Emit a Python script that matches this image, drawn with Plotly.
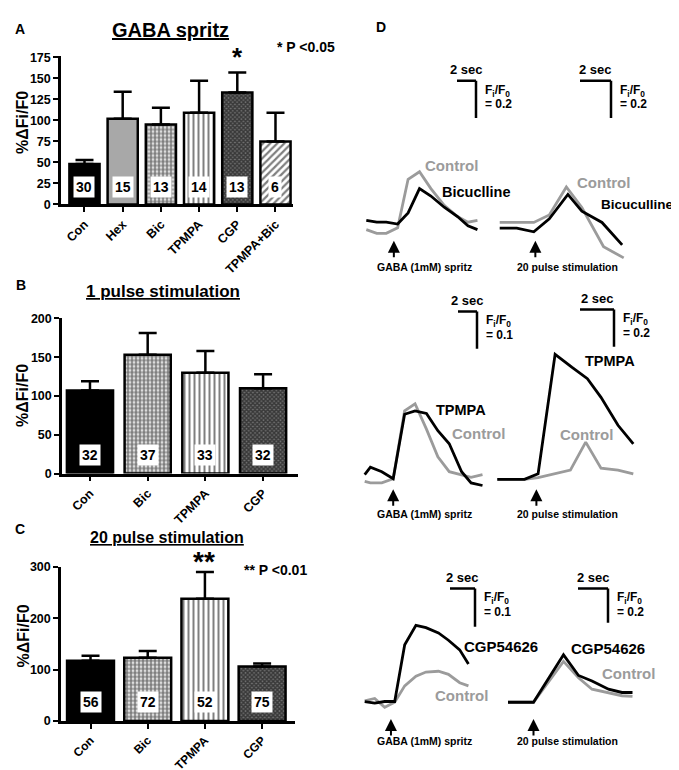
import plotly.graph_objects as go

W, H = 679, 770
FONT = "Arial, Liberation Sans, sans-serif"
GREY = "#9b9b9b"

# ---- panel A: GABA spritz ----
A_CATS = ["Con", "Hex", "Bic", "TPMPA", "CGP", "TPMPA+Bic"]
A_MEAN = [48, 102, 95, 109, 133, 75]
A_SEM = [5, 32, 20, 38, 24, 34]
A_N = [30, 15, 13, 14, 13, 6]

# ---- panel B: 1 pulse stimulation ----
B_CATS = ["Con", "Bic", "TPMPA", "CGP"]
B_MEAN = [107, 153, 130, 110]
B_SEM = [12, 28, 28, 18]
B_N = [32, 37, 33, 32]

# ---- panel C: 20 pulse stimulation ----
C_CATS = ["Con", "Bic", "TPMPA", "CGP"]
C_MEAN = [117, 123, 238, 106]
C_SEM = [10, 13, 52, 6]
C_N = [56, 72, 52, 75]

# ---- panel D: example traces (time in s, dF/F0 from baseline) ----
D1_T = [0, 1.1, 2.1, 3.3, 4.4, 5.6, 6.8, 8.2, 9.6, 10.7, 11.7]
D1_CONTROL = [-0.04, -0.06, -0.06, -0.03, 0.23, 0.27, 0.18, 0.09, 0.03, 0.00, 0.01]
D1_BIC = [0.01, 0.00, 0.00, -0.01, 0.05, 0.18, 0.14, 0.08, 0.03, -0.02, -0.04]

D2_T_CON = [0, 1.1, 2.2, 3.2, 4.3, 5.3, 6.7, 8.0]
D2_CONTROL = [0.03, 0.03, 0.03, 0.07, 0.22, 0.11, -0.10, -0.16]
D2_T_BIC = [0, 1.1, 2.2, 3.2, 4.4, 5.3, 6.6, 7.9]
D2_BIC = [0.00, 0.00, -0.02, 0.05, 0.18, 0.09, 0.03, -0.09]

D3_T = [0, 0.6, 1.8, 3.0, 4.2, 5.3, 6.5, 7.7, 8.9, 10.2, 11.2, 12.4]
D3_CONTROL = [-0.008, -0.012, -0.012, -0.001, 0.181, 0.200, 0.132, 0.058, 0.018, 0.010, 0.003, 0.010]
D3_TPMPA = [0.010, 0.030, 0.018, -0.001, 0.172, 0.181, 0.174, 0.128, 0.093, 0.018, -0.012, -0.019]

D4_T_CON = [0, 1.6, 2.4, 3.4, 4.3, 5.2, 6.1, 7.1, 8.0]
D4_CONTROL = [0.00, 0.00, 0.01, 0.03, 0.05, 0.20, 0.06, 0.05, 0.03]
D4_T_TPMPA = [0, 0.8, 1.6, 2.4, 3.4, 4.4, 5.3, 6.1, 7.1, 8.0]
D4_TPMPA = [0.00, 0.00, 0.00, 0.03, 0.67, 0.60, 0.54, 0.44, 0.29, 0.19]

D5_T = [0, 0.8, 1.6, 2.4, 3.2, 4.1, 4.9, 5.9, 6.7, 7.6, 8.3]
D5_CONTROL = [0.004, 0.010, -0.013, 0.000, 0.043, 0.068, 0.079, 0.081, 0.073, 0.051, 0.043]
D5_CGP = [0.002, -0.002, 0.002, 0.002, 0.150, 0.201, 0.195, 0.181, 0.162, 0.137, 0.100]

D6_T = [0, 1.7, 3.7, 4.7, 5.6, 6.7, 7.6, 8.3]
D6_CONTROL = [0, 0, 0.238, 0.143, 0.076, 0.057, 0.038, 0.034]
D6_CGP = [0, 0, 0.276, 0.156, 0.124, 0.076, 0.057, 0.057]

SCALE_T = 2
SCALE_F = [0.2, 0.2, 0.1, 0.2, 0.1, 0.2]
STIM_T = [2.9, 2.3, 3.0, 2.3, 2.1, 1.7]


def fx(px):
    return px / W


def fy(py):
    return 1 - py / H


# bar fill per condition
PATTERNS = {
    "Con": dict(color="black"),
    "Hex": dict(color="#a8a8a8"),
    "Bic": dict(color="white", pattern=dict(shape=".", fgcolor="black", bgcolor="white", size=4, solidity=0.7)),
    "TPMPA": dict(color="white", pattern=dict(shape="|", fgcolor="black", bgcolor="white", size=5, solidity=0.4)),
    "CGP": dict(color="white", pattern=dict(shape="x", fgcolor="black", bgcolor="#707070", size=3, solidity=0.7)),
    "TPMPA+Bic": dict(color="white", pattern=dict(shape="/", fgcolor="black", bgcolor="white", size=5, solidity=0.45)),
}

fig = go.Figure()
annotations = []
shapes = []


def bold(size, color="black"):
    return dict(family=FONT, size=size, color=color, weight="bold")


def text(px, py, s, size, color="black", xanchor="center", angle=0):
    annotations.append(dict(
        x=fx(px), y=fy(py), xref="paper", yref="paper", text=s, showarrow=False,
        xanchor=xanchor, yanchor="middle", font=bold(size, color), textangle=angle,
    ))


# left bar panels: (axis suffix, cats, means, sems, ns, px box, y top, n-label y, bar width, ticks)
BAR_PANELS = [
    ("", A_CATS, A_MEAN, A_SEM, A_N, (53, 285, 193, 41.3), 177, 21, 0.79, [0, 25, 50, 75, 100, 125, 150, 175]),
    ("2", B_CATS, B_MEAN, B_SEM, B_N, (54, 290, 467, 309), 200, 24, 0.8, [0, 50, 100, 150, 200]),
    ("3", C_CATS, C_MEAN, C_SEM, C_N, (53, 287, 719, 562), 300, 36, 0.82, [0, 100, 200, 300]),
]
CAT_PX = [38.2, 57.7, 57.2]   # pixels per category
X_LEFT = [0.615, 0.485, 0.516]
XTICK_SIZE = [12.5, 12.5, 12]

layout_axes = {}
for i, (sfx, cats, means, sems, ns, box, ytop, ny, bw, ticks) in enumerate(BAR_PANELS):
    x0, x1, yb, yt = box
    for cat, m, e in zip(cats, means, sems):
        fig.add_trace(go.Bar(
            x=[cat], y=[m], width=bw, xaxis="x" + sfx, yaxis="y" + sfx,
            marker=dict(**PATTERNS[cat], line=dict(color="black", width=2.5)),
            error_y=dict(type="data", array=[e], arrayminus=[0], symmetric=False,
                         color="black", thickness=2.5, width=9),
            showlegend=False,
        ))
    for cat, n in zip(cats, ns):
        annotations.append(dict(
            x=cat, y=ny, xref="x" + sfx, yref="y" + sfx, text=str(n), showarrow=False,
            bgcolor="white", borderpad=2, font=bold(14),
        ))
    left = X_LEFT[i]
    right = (x1 - x0) / CAT_PX[i] - left
    layout_axes["xaxis" + sfx] = dict(
        domain=[fx(x0), fx(x1)], range=[-left, right], anchor="y" + sfx,
        showline=True, linecolor="black", linewidth=2.5, ticks="outside", ticklen=5,
        tickwidth=2, tickcolor="black", tickangle=-45, tickfont=bold(XTICK_SIZE[i]),
        showgrid=False, zeroline=False, type="category", fixedrange=True,
    )
    layout_axes["yaxis" + sfx] = dict(
        domain=[fy(yb), fy(yt)], range=[0, ytop], anchor="x" + sfx,
        showline=True, linecolor="black", linewidth=2.5, ticks="outside", ticklen=5,
        tickwidth=2, tickcolor="black", tickfont=bold(12.5), tickvals=ticks,
        showgrid=False, zeroline=False, fixedrange=True,
    )

fig.update_layout(barmode="overlay")

# panel letters, titles, y titles, significance
text(12, 14, "A", 14)
text(13, 275, "B", 14)
text(12, 524, "C", 14)
text(373, 12, "D", 14)
text(162, 15, "<u>GABA spritz</u>", 20)
text(155, 282, "<u>1 pulse stimulation</u>", 17)
text(159, 532, "<u>20 pulse stimulation</u>", 16)
for py in (110, 388, 633):
    text(15, py, "%ΔFi/F0", 16, angle=-90)
text(229, 43, "*", 26)
text(298, 33, "* P <0.05", 14)
text(196, 557, "**", 28)
text(267, 565, "** P <0.01", 14)

# right trace panels: t0 px, baseline px, px/s, px/unit, box (x0, x1, ytop, ybot), scale corner
D_PANELS = [
    (358.3, 211, 9.5, 190, (352, 478, 60, 250), (468, 67)),
    (491.7, 217, 15.5, 190, (485, 625, 60, 250), (603, 67)),
    (356.7, 472, 9.5, 380, (350, 480, 295, 500), (469, 302)),
    (489.3, 473, 17, 190, (483, 630, 293, 500), (606, 300)),
    (356.7, 700, 12.5, 390, (350, 480, 578, 735), (467, 584)),
    (500, 700, 15, 175, (490, 630, 578, 735), (600, 584)),
]
TRACES = [
    [(D1_T, D1_CONTROL, GREY), (D1_T, D1_BIC, "black")],
    [(D2_T_CON, D2_CONTROL, GREY), (D2_T_BIC, D2_BIC, "black")],
    [(D3_T, D3_CONTROL, GREY), (D3_T, D3_TPMPA, "black")],
    [(D4_T_CON, D4_CONTROL, GREY), (D4_T_TPMPA, D4_TPMPA, "black")],
    [(D5_T, D5_CONTROL, GREY), (D5_T, D5_CGP, "black")],
    [(D6_T, D6_CONTROL, GREY), (D6_T, D6_CGP, "black")],
]
ARROW_TIP = [230, 230, 483, 483, 717, 717]

for k, (t0, base, sx, sy, box, corner) in enumerate(D_PANELS):
    ax_id = str(k + 4)
    x0, x1, ytop, ybot = box
    for t, v, col in TRACES[k]:
        fig.add_trace(go.Scatter(
            x=t, y=v, mode="lines", line=dict(color=col, width=2.8),
            xaxis="x" + ax_id, yaxis="y" + ax_id, showlegend=False, hoverinfo="skip",
        ))
    layout_axes["xaxis" + ax_id] = dict(
        domain=[fx(x0), fx(x1)], range=[(x0 - t0) / sx, (x1 - t0) / sx],
        visible=False, anchor="y" + ax_id, fixedrange=True,
    )
    layout_axes["yaxis" + ax_id] = dict(
        domain=[fy(ybot), fy(ytop)], range=[(base - ybot) / sy, (base - ytop) / sy],
        visible=False, anchor="x" + ax_id, fixedrange=True,
    )
    # scale bar (2 s horizontal, F/F0 vertical)
    ct = (corner[0] - t0) / sx
    cf = (base - corner[1]) / sy
    line = dict(color="black", width=2.5)
    shapes.append(dict(type="line", xref="x" + ax_id, yref="y" + ax_id,
                       x0=ct - SCALE_T, x1=ct, y0=cf, y1=cf, line=line))
    shapes.append(dict(type="line", xref="x" + ax_id, yref="y" + ax_id,
                       x0=ct, x1=ct, y0=cf, y1=cf - SCALE_F[k], line=line))
    mid_px = corner[0] - SCALE_T * sx / 2
    text(mid_px, corner[1] - 11, "2 sec", 13)
    text(corner[0] + 7, corner[1] + 10, "F<sub>i</sub>/F<sub>0</sub>", 12, xanchor="left")
    text(corner[0] + 7, corner[1] + 24, f"= {SCALE_F[k]}", 12, xanchor="left")
    # stimulus arrow
    annotations.append(dict(
        x=STIM_T[k], y=(base - ARROW_TIP[k]) / sy, xref="x" + ax_id, yref="y" + ax_id,
        text="", showarrow=True, ax=0, ay=18, arrowhead=2, arrowsize=1.2,
        arrowwidth=2, arrowcolor="black",
    ))

# stimulus labels
for py in (257, 508, 739):
    text(416, py, "GABA (1mM) spritz", 10.5)
    text(559, py, "20 pulse stimulation", 10.5)

# trace labels
text(443, 153, "Control", 15, GREY)
text(468, 180, "Bicuclline", 14.5)
text(595, 171, "Control", 15, GREY)
text(668, 193, "Bicuculline", 13.5, xanchor="right")
text(453, 402, "TPMPA", 14.5)
text(470, 426, "Control", 15, GREY)
text(602, 352, "TPMPA", 14.5)
text(578, 427, "Control", 15, GREY)
text(493, 643, "CGP54626", 15)
text(453, 693, "Control", 15, GREY)
text(600, 645, "CGP54626", 15)
text(620, 671, "Control", 15, GREY)

fig.update_layout(
    width=W, height=H, margin=dict(l=0, r=0, t=0, b=0),
    paper_bgcolor="white", plot_bgcolor="rgba(0,0,0,0)",
    font=dict(family=FONT, color="black"),
    annotations=annotations, shapes=shapes, showlegend=False,
    **layout_axes,
)
fig.write_html("out.html")
